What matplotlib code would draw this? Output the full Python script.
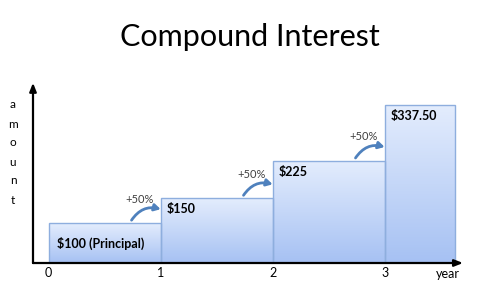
import numpy as np
import matplotlib
matplotlib.use("Agg")
import matplotlib.pyplot as plt
from matplotlib.colors import LinearSegmentedColormap

# ---- data ----
years = [0, 1, 2, 3]
amounts = [100, 150, 225, 337.5]
bar_widths = [1, 1, 1, 0.63]
bar_labels = ["$100 (Principal)", "$150", "$225", "$337.50"]
growth_labels = ["+50%", "+50%", "+50%"]
tick_labels = ["0", "1", "2", "3"]
title = "Compound Interest"
ylabel = "amount"
xlabel = "year"

plt.rcParams['font.family'] = ['Lato', 'DejaVu Sans']

fig = plt.figure(figsize=(5, 2.86), dpi=100)
ax = fig.add_axes([0.066, 0.0804, 0.86, 0.63])
ax.set_xlim(-0.14, 3.7)
ax.set_ylim(20, 382)
for s in ax.spines.values():
    s.set_visible(False)
ax.set_yticks([])
ax.set_xticks(years)
ax.set_xticklabels(tick_labels, fontsize=9)
ax.tick_params(axis='x', length=0, pad=3)

cmap = LinearSegmentedColormap.from_list("g", ["#a6c1f3", "#e4edfd"])
grad = np.linspace(0, 1, 256).reshape(-1, 1)

bars = ax.bar(years, amounts, width=bar_widths, align='edge',
              facecolor='none', edgecolor='#8eaede', linewidth=1.0, zorder=3)
for b, v in zip(bars, amounts):
    x0 = b.get_x()
    w = b.get_width()
    im = ax.imshow(grad, cmap=cmap, aspect='auto', origin='lower',
                   extent=[x0, x0 + w, 20, v], zorder=2)
    im.set_clip_path(b)
ax.set_xlim(-0.14, 3.7)
ax.set_ylim(20, 382)

# bar labels
for i, (b, v, lab) in enumerate(zip(bars, amounts, bar_labels)):
    if i == 0:
        ax.annotate(lab, xy=(b.get_x(), (20 + v) / 2), xytext=(8, 0),
                    textcoords='offset pixels', ha='left', va='center',
                    fontsize=9, fontweight='bold', color='black',
                    annotation_clip=False, zorder=5)
    else:
        ax.annotate(lab, xy=(b.get_x(), v), xytext=(6, -11),
                    textcoords='offset pixels', ha='left', va='center',
                    fontsize=9, fontweight='bold', color='black',
                    annotation_clip=False, zorder=5)

# growth arrows and labels (pixel offsets converted to data units)
px_per_unit_y = ax.transData.transform((0, 1))[1] - ax.transData.transform((0, 0))[1]
for i, g in enumerate(growth_labels):
    v = amounts[i]
    nx = years[i + 1]
    y_start = v + 3 / px_per_unit_y
    y_end = v + 14 / px_per_unit_y
    ax.annotate('', xy=(nx, y_end), xytext=(nx - 0.26, y_start),
                arrowprops=dict(arrowstyle='-|>,head_length=0.35,head_width=0.2',
                                color='#4f81bd', lw=2.0,
                                connectionstyle='arc3,rad=-0.35',
                                shrinkA=0, shrinkB=0),
                zorder=6)
    ax.annotate(g, xy=(nx - 0.19, v), xytext=(0, 24),
                textcoords='offset pixels', ha='center', va='center',
                fontsize=8, color='#404040', zorder=6)

# axes arrows
ax.annotate('', xy=(0, 1), xytext=(0, 0), xycoords='axes fraction',
            arrowprops=dict(arrowstyle='-|>,head_length=0.5,head_width=0.2',
                            color='black', lw=1.6, shrinkA=0, shrinkB=0),
            annotation_clip=False, zorder=7)
ax.annotate('', xy=(1, 0), xytext=(0, 0), xycoords='axes fraction',
            arrowprops=dict(arrowstyle='-|>,head_length=0.5,head_width=0.2',
                            color='black', lw=1.6, shrinkA=0, shrinkB=0),
            annotation_clip=False, zorder=7)

# title
fig.text(0.5, 1 - 37 / 286, title, ha='center', va='center', fontsize=22,
         color='black')

# y label letters stacked
for k, ch in enumerate(ylabel):
    y_px = 105 + k * 19
    fig.text(13 / 500, 1 - y_px / 286, ch, ha='center', va='center',
             fontsize=8.5, color='black')

# x label
fig.text(448 / 500, 1 - 274 / 286, xlabel, ha='center', va='center',
         fontsize=9, color='black')

fig.savefig("out.png", dpi=100)
